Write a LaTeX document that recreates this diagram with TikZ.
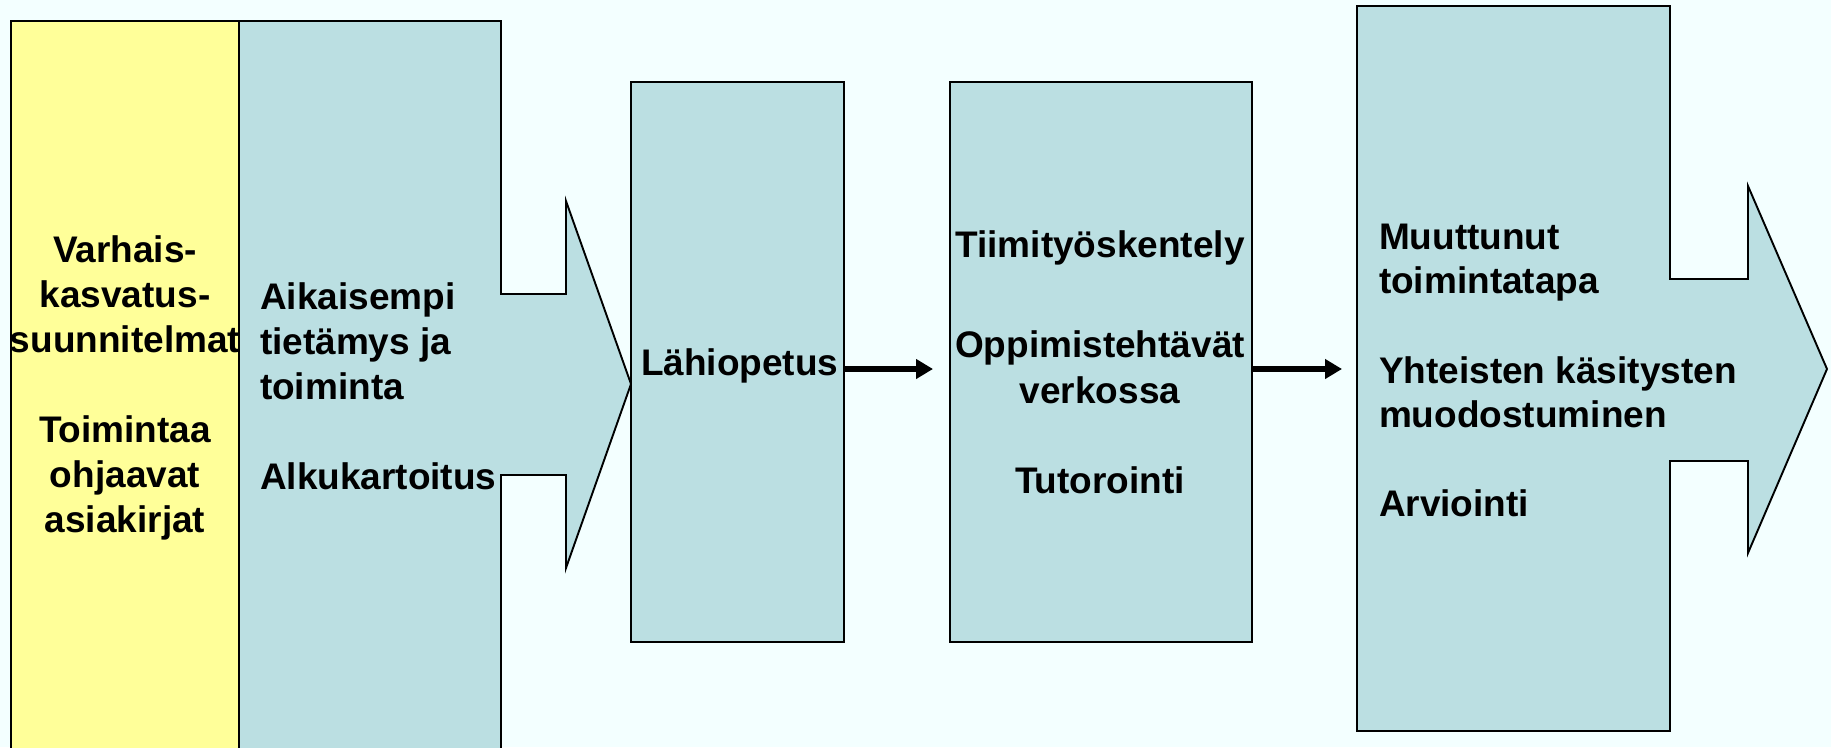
\documentclass[tikz,border=0pt]{standalone}
\usepackage{fontspec}
\setmainfont{Liberation Sans}
\usetikzlibrary{arrows.meta}
\definecolor{bg}{HTML}{F3FFFF}
\definecolor{boxblue}{HTML}{BBDFE2}
\definecolor{boxyellow}{HTML}{FFFF99}
\begin{document}
\begin{tikzpicture}[x=1pt,y=-1pt,
  outl/.style={draw=black,line width=1.9pt,line join=miter},
  txt/.style={font=\fontsize{37}{45}\selectfont\bfseries, inner sep=0pt, outer sep=0pt, text=black},
  conn/.style={line width=5.5pt,-{Triangle[length=17pt,width=19pt]}},
  boxnode/.style={outl, fill=boxblue, rectangle, anchor=north west, inner sep=0pt, outer sep=0pt, minimum height=560pt}
]
\fill[bg] (0,0) rectangle (1831,747);
\useasboundingbox (0,0) rectangle (1831,747);
\clip (0,0) rectangle (1831,747);

% yellow column
\path[outl, fill=boxyellow] (11,21) rectangle (239,760);
% first big arrow
\path[outl, fill=boxblue] (239,21) -- (501,21) -- (501,294) -- (566,294) -- (566,201)
  -- (631,384) -- (566,568) -- (566,475) -- (501,475) -- (501,760) -- (239,760) -- cycle;
% last big arrow
\path[outl, fill=boxblue] (1357,6) -- (1670,6) -- (1670,279) -- (1748,279) -- (1748,186)
  -- (1827,369) -- (1748,553) -- (1748,461) -- (1670,461) -- (1670,731) -- (1357,731) -- cycle;

% boxes
\node[boxnode, minimum width=213pt] (lahi) at (631,82) {};
\node[boxnode, minimum width=302pt] (tiimi) at (950,82) {};
\coordinate (out3) at (1342,369);

% connectors
\draw[conn] (lahi.east |- 0,369) -- ([xshift=-17pt]tiimi.west |- 0,369);
\draw[conn] (tiimi.east |- 0,369) -- (out3);

% yellow text
\node[txt, anchor=base] (y1) at (125,262) {Varhais-};
\node[txt, anchor=base] (y2) at (125,307) {kasvatus-};
\node[txt, anchor=base] (y3) at (125,352) {suunnitelmat};
\node[txt, anchor=base] (y4) at (125,442) {Toimintaa};
\node[txt, anchor=base] (y5) at (125,487) {ohjaavat};
\node[txt, anchor=base] (y6) at (125,532) {asiakirjat};

% first arrow text
\node[txt, anchor=base west] (a1) at (260,309) {Aikaisempi};
\node[txt, anchor=base west] (a2) at (260,354) {tietämys ja};
\node[txt, anchor=base west] (a3) at (260,399) {toiminta};
\node[txt, anchor=base west] (a4) at (260,489) {Alkukartoitus};

% Lähiopetus
\node[txt, anchor=base west] (l1) at (641,375) {Lähiopetus};

% middle box text
\node[txt, anchor=base] (t1) at (1100,257) {Tiimityöskentely};
\node[txt, anchor=base] (t2) at (1100,357) {Oppimistehtävät};
\node[txt, anchor=base] (t3) at (1100,403) {verkossa};
\node[txt, anchor=base] (t4) at (1100,493) {Tutorointi};

% last arrow text
\node[txt, anchor=base west] (m1) at (1379,249) {Muuttunut};
\node[txt, anchor=base west] (m2) at (1379,293) {toimintatapa};
\node[txt, anchor=base west] (m3) at (1379,383) {Yhteisten käsitysten};
\node[txt, anchor=base west] (m4) at (1379,427) {muodostuminen};
\node[txt, anchor=base west] (m5) at (1379,516) {Arviointi};
\end{tikzpicture}
\end{document}
